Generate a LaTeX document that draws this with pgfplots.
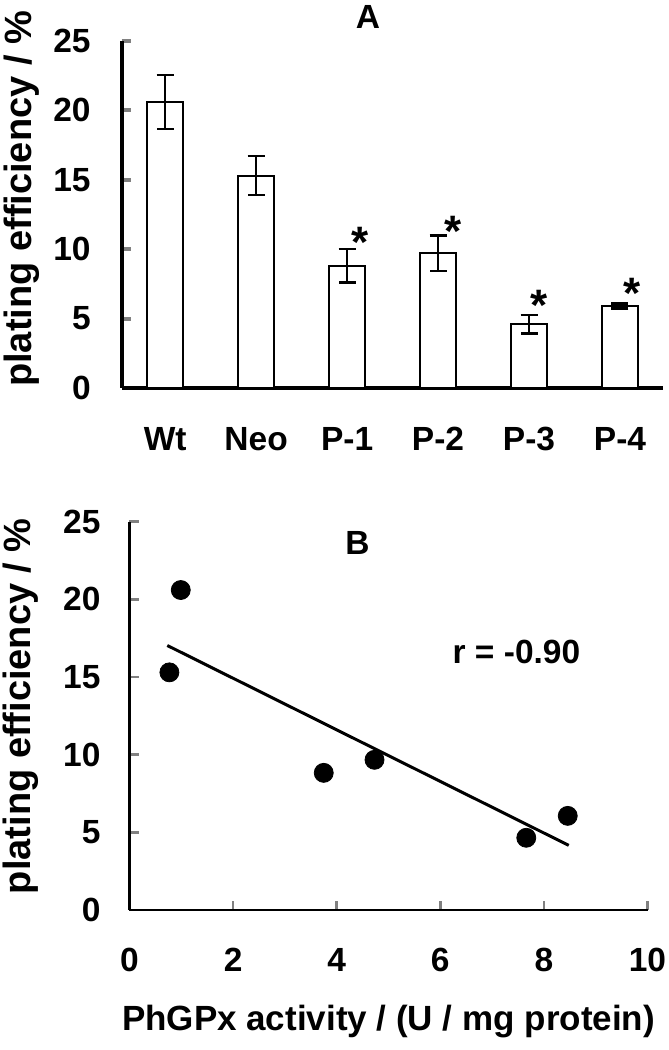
\documentclass[border=0pt]{standalone}
\usepackage{fontspec}
\setmainfont{Liberation Sans}
\usepackage{pgfplots}
\pgfplotsset{compat=1.18}
\newcommand\F{\fontsize{16.75}{20}\selectfont\bfseries}
\newcommand\FL{\fontsize{17.5}{20}\selectfont\bfseries}
\newcommand\FY{\fontsize{19}{20}\selectfont\bfseries}
\newcommand\FS{\fontsize{22}{24}\selectfont\bfseries}
\begin{document}
\begin{tikzpicture}
\useasboundingbox (0,0) rectangle (334.5pt,525pt);
% ---------------- Panel A ----------------
\begin{axis}[
  at={(60.85pt,331pt)}, anchor=south west,
  scale only axis, width=270.65pt, height=173.5pt,
  xmin=-0.478, xmax=5.473, ymin=0, ymax=25,
  axis x line=bottom, axis y line=left,
  axis line style={-, line width=2pt},
  xtick={0,1,2,3,4,5},
  xticklabels={Wt,Neo,P-1,P-2,P-3,P-4},
  xtick style={draw=none},
  ytick={0,5,10,15,20,25},
  ytick style={line width=2pt},
  tick align=inside, major tick length=4.5pt,
  /pgf/number format/assume math mode=true,
  ticklabel style={font=\F},
  yticklabel style={xshift=-12pt},
  xticklabel style={yshift=-16pt},
  ylabel={plating efficiency / \%},
  ylabel style={font=\FY, at={(axis description cs:-0.184,0.545)}, anchor=center, rotate=0},
  every axis title shift=0pt,
  title={A}, title style={font=\F, at={(axis description cs:0.455,1.069)}, anchor=center},
  clip=false,
]
\addplot[ybar, bar width=0.4, draw=black, fill=white, line width=1.1pt,
  error bars/.cd, y dir=both, y explicit,
  error bar style={line width=0.9pt},
  error mark options={rotate=90, line width=1.3pt, mark size=4.25pt}]
  coordinates {
  (0,20.6) +- (0,1.95)
  (1,15.3) +- (0,1.4)
  (2,8.8) +- (0,1.22)
  (3,9.7) +- (0,1.27)
  (4,4.6) +- (0,0.66)
  (5,5.9) +- (0,0.18)
  };
\node[font=\FS, anchor=base] at (axis cs:2.146,9.42) {*};
\node[font=\FS, anchor=base] at (axis cs:3.168,10.21) {*};
\node[font=\FS, anchor=base] at (axis cs:4.115,4.86) {*};
\node[font=\FS, anchor=base] at (axis cs:5.137,5.70) {*};
\end{axis}
% ---------------- Panel B ----------------
\begin{axis}[
  at={(64.75pt,70pt)}, anchor=south west,
  scale only axis, width=259pt, height=194.15pt,
  xmin=0, xmax=10, ymin=0, ymax=25,
  axis x line=bottom, axis y line=left,
  axis line style={-, line width=1.3pt},
  xtick={0,2,4,6,8,10},
  ytick={0,5,10,15,20,25},
  tick style={line width=1.3pt},
  tick align=inside, major tick length=4.5pt,
  /pgf/number format/assume math mode=true,
  ticklabel style={font=\F},
  yticklabel style={xshift=-11pt},
  xticklabel style={yshift=-15.5pt},
  ylabel={plating efficiency / \%},
  ylabel style={font=\FY, at={(axis description cs:-0.21,0.525)}, anchor=center, rotate=0},
  xlabel={PhGPx activity / (U / mg protein)},
  xlabel style={font=\FL, at={(axis description cs:0.5,-0.288)}, anchor=center},
  every axis title shift=0pt,
  title={B}, title style={font=\F, at={(axis description cs:0.44,0.945)}, anchor=center},
  clip=false,
]
\addplot[only marks, mark=*, mark size=4.75pt, mark options={fill=black, draw=black}]
  coordinates {(0.99,20.6) (0.77,15.3) (3.75,8.83) (4.73,9.67) (7.66,4.65) (8.46,6.06)};
\addplot[black, line width=1.5pt] coordinates {(0.73,17.03) (8.48,4.16)};
\node[font=\F, anchor=center] at (axis cs:7.47,16.6) {r = -0.90};
\end{axis}
\end{tikzpicture}
\end{document}
